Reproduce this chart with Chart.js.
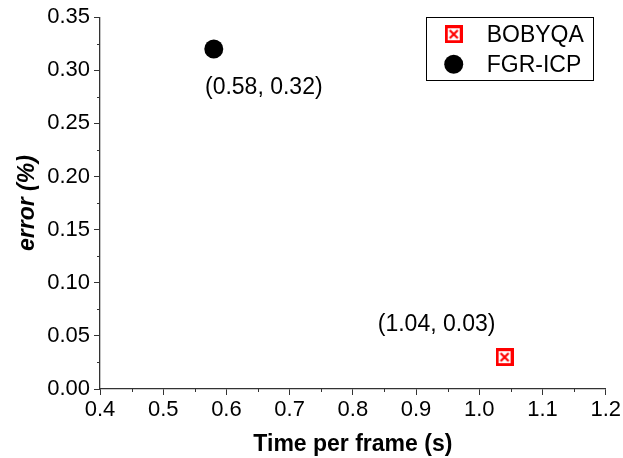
<!DOCTYPE html>
<html>
<head>
<meta charset="utf-8">
<script src="https://cdn.jsdelivr.net/npm/chart.js@4.4.1/dist/chart.umd.min.js"></script>
<style>
  html, body { margin: 0; padding: 0; background: #fff; }
  #wrap { width: 623px; height: 458px; }
</style>
</head>
<body>
<div id="wrap"><canvas id="scatterChart"></canvas></div>
<script>
// data
const seriesNames = ["BOBYQA", "FGR-ICP"];
const timePerFrame = [1.04, 0.58];
const errorValues = [0.03, 0.32];
const pointLabels = ["(1.04, 0.03)", "(0.58, 0.32)"];
const xTicks = [0.4, 0.5, 0.6, 0.7, 0.8, 0.9, 1.0, 1.1, 1.2];
const yTicks = [0.00, 0.05, 0.10, 0.15, 0.20, 0.25, 0.30, 0.35];

const FONT = "'Liberation Sans', Arial, sans-serif";
const AXIS_COLOR = "#333";

// red square with a cross, drawn once and used as point style
function makeBoxCross() {
  const c = document.createElement("canvas");
  c.width = 18; c.height = 18;
  const g = c.getContext("2d");
  g.fillStyle = "#fff";
  g.fillRect(0, 0, 18, 18);
  g.strokeStyle = "#ff0000";
  g.lineWidth = 3;
  g.strokeRect(1.5, 1.5, 15, 15);
  g.lineWidth = 2.2;
  g.beginPath();
  g.moveTo(5, 5); g.lineTo(13, 13);
  g.moveTo(13, 5); g.lineTo(5, 13);
  g.stroke();
  return c;
}
const boxCross = makeBoxCross();

// label offsets (px) from each point
const labelOffsets = [[-68, -32], [50, 39]];

const extrasPlugin = {
  id: "extras",
  afterDraw(chart) {
    const ctx = chart.ctx;
    const xs = chart.scales.x, ys = chart.scales.y;
    const area = chart.chartArea;
    ctx.save();

    // minor ticks between major ones
    ctx.strokeStyle = AXIS_COLOR;
    ctx.lineWidth = 1;
    ctx.beginPath();
    for (let i = 0; i < xTicks.length - 1; i++) {
      const px = Math.round(xs.getPixelForValue((xTicks[i] + xTicks[i + 1]) / 2)) + 0.5;
      ctx.moveTo(px, area.bottom);
      ctx.lineTo(px, area.bottom + 3);
    }
    for (let i = 0; i < yTicks.length - 1; i++) {
      const py = Math.round(ys.getPixelForValue((yTicks[i] + yTicks[i + 1]) / 2)) + 0.5;
      ctx.moveTo(area.left, py);
      ctx.lineTo(area.left - 3, py);
    }
    ctx.stroke();

    // point annotations
    ctx.fillStyle = "#000";
    ctx.font = "23px " + FONT;
    ctx.textAlign = "center";
    ctx.textBaseline = "middle";
    for (let i = 0; i < pointLabels.length; i++) {
      const px = xs.getPixelForValue(timePerFrame[i]);
      const py = ys.getPixelForValue(errorValues[i]);
      ctx.fillText(pointLabels[i], px + labelOffsets[i][0], py + labelOffsets[i][1]);
    }

    // legend box in the top right corner
    const boxR = area.right - 13, boxL = boxR - 167, boxT = area.top, boxB = boxT + 63;
    ctx.strokeStyle = "#000";
    ctx.lineWidth = 1;
    ctx.strokeRect(Math.round(boxL) + 0.5, Math.round(boxT) + 0.5, boxR - boxL, boxB - boxT);
    ctx.font = "23px " + FONT;
    ctx.textAlign = "left";
    chart.data.datasets.forEach((ds, i) => {
      const cy = boxT + 17 + i * 30;
      const mx = boxL + 28;
      if (ds.pointStyle === "circle") {
        ctx.fillStyle = ds.backgroundColor;
        ctx.beginPath();
        ctx.arc(mx, cy, 9.5, 0, Math.PI * 2);
        ctx.fill();
      } else {
        ctx.drawImage(ds.pointStyle, mx - 9, cy - 9);
      }
      ctx.fillStyle = "#000";
      ctx.fillText(ds.label, boxL + 61, cy + 1);
    });
    ctx.restore();
  }
};

new Chart(document.getElementById("scatterChart"), {
  type: "scatter",
  data: {
    datasets: [
      {
        label: seriesNames[0],
        data: [{ x: timePerFrame[0], y: errorValues[0] }],
        pointStyle: boxCross,
        backgroundColor: "#ff0000",
        borderColor: "#ff0000"
      },
      {
        label: seriesNames[1],
        data: [{ x: timePerFrame[1], y: errorValues[1] }],
        pointStyle: "circle",
        pointRadius: 9.5,
        pointHoverRadius: 9.5,
        backgroundColor: "#000",
        borderColor: "#000",
        borderWidth: 0
      }
    ]
  },
  options: {
    responsive: true,
    maintainAspectRatio: false,
    animation: false,
    layout: { padding: { top: 17, right: 16, left: 0, bottom: 0 } },
    plugins: {
      legend: { display: false },
      tooltip: { enabled: false }
    },
    scales: {
      x: {
        type: "linear",
        min: xTicks[0],
        max: xTicks[xTicks.length - 1],
        afterBuildTicks: (s) => { s.ticks = xTicks.map(v => ({ value: v })); },
        afterFit: (s) => { s.height = 69; },
        grid: { drawOnChartArea: false, tickLength: 6, tickColor: AXIS_COLOR },
        border: { display: true, color: AXIS_COLOR, width: 1.3 },
        ticks: {
          color: "#000",
          font: { family: FONT, size: 22 },
          padding: 2,
          maxRotation: 0,
          callback: (v) => Number(v).toFixed(1)
        },
        title: {
          display: true,
          text: "Time per frame (s)",
          color: "#000",
          font: { family: FONT, size: 23, weight: "bold" },
          padding: { top: 2, bottom: 0 }
        }
      },
      y: {
        type: "linear",
        min: yTicks[0],
        max: yTicks[yTicks.length - 1],
        afterBuildTicks: (s) => { s.ticks = yTicks.map(v => ({ value: v })); },
        afterFit: (s) => { s.width = 100; },
        grid: { drawOnChartArea: false, tickLength: 6, tickColor: AXIS_COLOR },
        border: { display: true, color: AXIS_COLOR, width: 1.3 },
        ticks: {
          color: "#000",
          font: { family: FONT, size: 22 },
          padding: 4,
          callback: (v) => Number(v).toFixed(2)
        },
        title: {
          display: true,
          text: "error (%)",
          color: "#000",
          font: { family: FONT, size: 23, weight: "bold", style: "italic" },
          padding: { top: 14, bottom: 0 }
        }
      }
    }
  },
  plugins: [extrasPlugin]
});
</script>
</body>
</html>
